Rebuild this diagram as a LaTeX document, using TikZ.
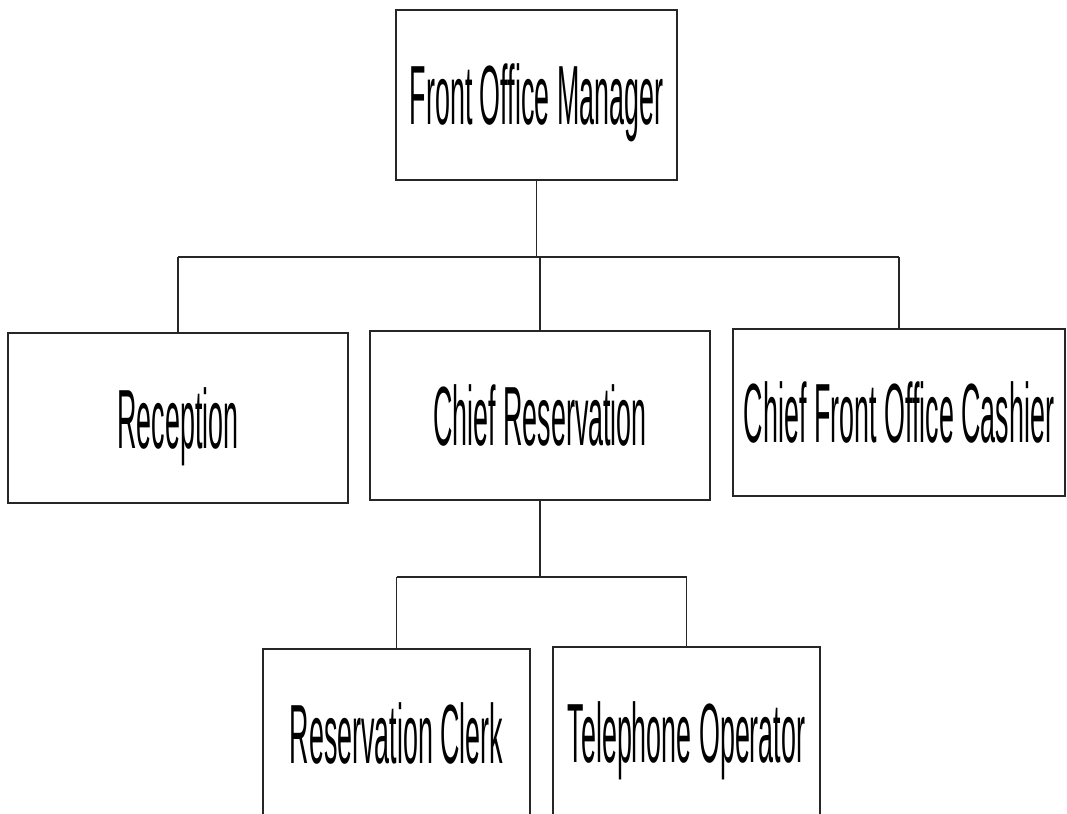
\documentclass[tikz,border=0pt]{standalone}
\usepackage{graphicx}
\usepackage{fontspec}
\setmainfont{Liberation Sans}
\newcommand{\nar}[1]{\scalebox{0.32}[1]{#1}}
\tikzset{
  unitbox/.style={draw=black!85, line width=1.1pt, rectangle, inner sep=0pt,
    font=\fontsize{84}{84}\selectfont, text height=60pt, text depth=0pt},
  link/.style={draw=black!85, line width=1.1pt}
}
\begin{document}
\begin{tikzpicture}[x=1pt,y=-1pt]
\useasboundingbox (0,0) rectangle (1067,813);
\fill[white] (0,0) rectangle (1067,813);
\node[unitbox, minimum width=281pt, minimum height=170pt] (fom) at (536.5,95) {\nar{Front Office Manager}};
\node[unitbox, minimum width=340pt, minimum height=170pt] (rec) at (178,418) {\nar{Reception}};
\node[unitbox, minimum width=340pt, minimum height=169pt] (cres) at (540,415.5) {\nar{Chief Reservation}};
\node[unitbox, minimum width=332pt, minimum height=167pt] (cfoc) at (899,412.5) {\nar{Chief Front Office Cashier}};
\node[unitbox, minimum width=267pt, minimum height=169pt] (rclk) at (396.5,733.5) {\nar{Reservation Clerk}};
\node[unitbox, minimum width=267pt, minimum height=171pt] (tel) at (686.5,732.5) {\nar{Telephone Operator}};
\coordinate (bus1) at (0,257);
\coordinate (bus2) at (0,577);
\draw[link] (fom.south) -- (fom.south |- bus1);
\draw[link] (rec.north |- bus1) -- (cfoc.north |- bus1);
\draw[link] (rec.north |- bus1) -- (rec.north);
\draw[link] (cres.north |- bus1) -- (cres.north);
\draw[link] (cfoc.north |- bus1) -- (cfoc.north);
\draw[link] (cres.south) -- (cres.south |- bus2);
\draw[link] (rclk.north |- bus2) -- (tel.north |- bus2);
\draw[link] (rclk.north |- bus2) -- (rclk.north);
\draw[link] (tel.north |- bus2) -- (tel.north);
\end{tikzpicture}
\end{document}
